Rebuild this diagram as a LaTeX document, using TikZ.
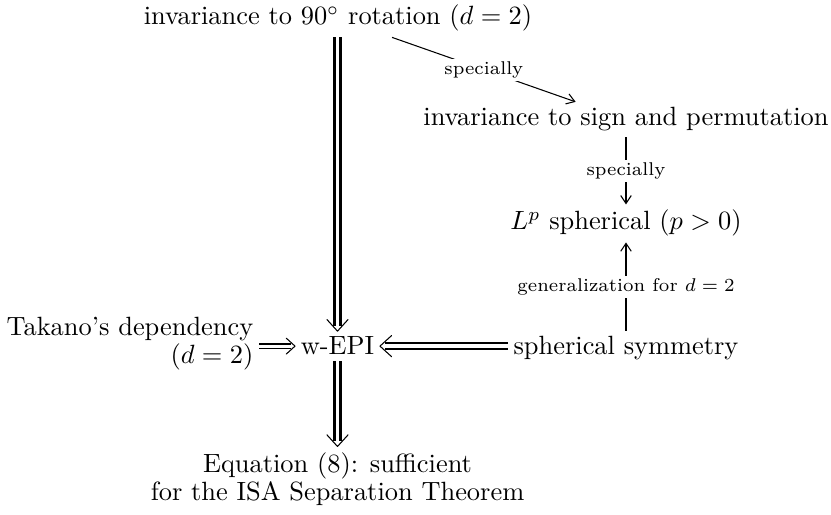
\documentclass[tikz,border=0pt]{standalone}
\usetikzlibrary{arrows.meta,decorations.markings}
\begin{document}
\begin{tikzpicture}[x=0.3788pt,y=-0.3788pt,
  txt/.style={inner sep=2pt},
  lbl/.style={font=\scriptsize, fill=white, inner sep=1pt},
  thinar/.style={line width=0.4pt, -{Straight Barb[length=3pt,width=4pt]}},
  chev/.style={decoration={markings, mark=at position 1 with {\draw[line width=0.4pt, shorten >=0pt, shorten <=0pt, line cap=round, line join=round, solid] (-#1*0.55,#1*0.5) -- (0,0) -- (-#1*0.55,-#1*0.5);}}, postaction=decorate},
  thickdbl/.style={double, line width=1pt, double distance=1.3pt, shorten >=2pt, chev=8pt},
  dbl/.style={double, line width=0.5pt, double distance=1.2pt, shorten >=1.5pt, chev=6pt},
]
\useasboundingbox (0,0) rectangle (831,515);
\node[txt, anchor=base] (top) at (338,25) {invariance to $90^\circ$ rotation ($d=2$)};
\node[txt, anchor=base] (sign) at (626,126) {invariance to sign and permutation};
\node[txt, anchor=base] (Lp) at (626,230) {$L^p$ spherical ($p>0$)};
\node[txt, anchor=base] (sph) at (626,355) {spherical symmetry};
\node[txt, anchor=base] (wEPI) at (337.5,355) {w-EPI};
\node[txt, align=right, font={\fontsize{10}{10.6}\selectfont}] (tak) at (130,344) {Takano's dependency\\($d=2$)};
\node[txt, align=center, font={\fontsize{10}{10.8}\selectfont}] (eq) at (337.5,479) {Equation (8): sufficient\\for the ISA Separation Theorem};

\draw[thickdbl] (top.south -| wEPI) -- (wEPI);
\draw[thinar] (top) -- node[lbl] {specially} (sign);
\draw[thinar] (sign.south -| Lp) -- node[lbl] {specially} (Lp);
\draw[thinar] (sph) -- node[lbl] {generalization for $d=2$} (Lp);
\draw[thickdbl] (sph.west |- wEPI) -- (wEPI);
\draw[dbl] (tak.east |- wEPI) -- (wEPI);
\draw[thickdbl] (wEPI) -- (eq.north -| wEPI);
\end{tikzpicture}
\end{document}
